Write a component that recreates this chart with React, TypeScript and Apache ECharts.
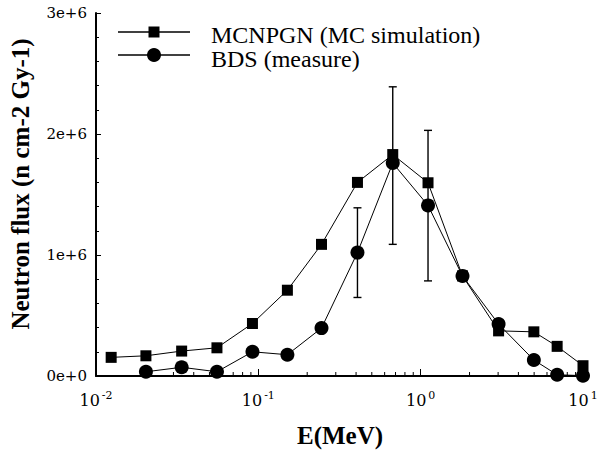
import React, { useEffect, useRef } from "react";
import * as echarts from "echarts";

// MCNPGN (MC simulation)
const mcEnergy = [0.0124, 0.0203, 0.0337, 0.0556, 0.092, 0.151, 0.245, 0.408, 0.673, 1.11, 1.81, 3.02, 4.98, 6.93, 10];
const mcFlux = [0.154e6, 0.167e6, 0.206e6, 0.233e6, 0.434e6, 0.709e6, 1.088e6, 1.6e6, 1.83e6, 1.597e6, 0.827e6, 0.373e6, 0.365e6, 0.245e6, 0.085e6];

// BDS (measure)
const bdsEnergy = [0.0203, 0.0337, 0.0556, 0.092, 0.151, 0.245, 0.408, 0.673, 1.11, 1.81, 3.02, 4.98, 6.93, 10];
const bdsFlux = [0.035e6, 0.072e6, 0.035e6, 0.2e6, 0.176e6, 0.396e6, 1.02e6, 1.76e6, 1.41e6, 0.827e6, 0.429e6, 0.132e6, 0.01e6, 0.003e6];

// error bars on BDS
const errEnergy = [0.408, 0.673, 1.11];
const errLow = [0.649e6, 1.088e6, 0.786e6];
const errHigh = [1.39e6, 2.39e6, 2.03e6];

// log-axis minor ticks
const xMinorTicks = [0.02, 0.03, 0.04, 0.05, 0.06, 0.07, 0.08, 0.09, 0.2, 0.3, 0.4, 0.5, 0.6, 0.7, 0.8, 0.9, 2, 3, 4, 5, 6, 7, 8, 9];

const seriesNames = ["MCNPGN (MC simulation)", "BDS (measure)"];
const xAxisTitle = "E(MeV)";
const yAxisTitle = "Neutron flux (n cm-2 Gy-1)";

const SERIF = "Liberation Serif";
const TICKFONT = "DejaVu Serif";

export default function App() {
  const ref = useRef<HTMLDivElement>(null);
  useEffect(() => {
    if (!ref.current) return;
    const chart = echarts.init(ref.current, null, { renderer: "svg" });
    const black = "#000";
    const option: any = {
      animation: false,
      backgroundColor: "#fff",
      grid: { left: 96, right: 16, top: 13, bottom: 75, containLabel: false, outerBoundsMode: "none" },
      xAxis: {
        type: "log",
        logBase: 10,
        min: 0.01,
        max: 10,
        axisLine: { show: true, onZero: false, lineStyle: { color: black, width: 2 } },
        axisTick: { show: true, inside: true, length: 7, lineStyle: { color: black, width: 1 } },
        minorTick: { show: false },
        splitLine: { show: false },
        axisLabel: {
          margin: 14,
          formatter: (v: number) => `{b|10}{s|${Math.round(Math.log10(v))}}`,
          rich: {
            b: { fontFamily: TICKFONT, fontSize: 16, color: black },
            s: { fontFamily: TICKFONT, fontSize: 11, color: black, padding: [0, 0, 10, 2] },
          },
        },
      },
      yAxis: {
        type: "value",
        min: 0,
        max: 3e6,
        interval: 1e6,
        axisLine: { show: true, lineStyle: { color: black, width: 2 } },
        axisTick: { show: true, inside: true, length: 5, lineStyle: { color: black, width: 1 } },
        minorTick: { show: true, splitNumber: 5, length: 3, lineStyle: { color: black, width: 1 } },
        splitLine: { show: false },
        axisLabel: {
          margin: 9,
          fontFamily: TICKFONT,
          fontSize: 15,
          color: black,
          formatter: (v: number) => (v === 0 ? "0e+0" : `${Math.round(v / 1e6)}e+6`),
        },
      },
      series: [
        {
          type: "custom",
          name: "xminor",
          silent: true,
          clip: false,
          z: 1,
          data: xMinorTicks.map((v) => [v, 0]),
          renderItem: (params: any, api: any) => {
            const p = api.coord([api.value(0), 0]);
            return {
              type: "line",
              shape: { x1: p[0], y1: p[1], x2: p[0], y2: p[1] - 4 },
              style: { stroke: black, lineWidth: 1 },
            };
          },
        },
        {
          type: "custom",
          name: "errorbars",
          silent: true,
          z: 2,
          data: errEnergy.map((e, i) => [e, errLow[i], errHigh[i]]),
          renderItem: (params: any, api: any) => {
            const x = api.value(0);
            const lo = api.coord([x, api.value(1)]);
            const hi = api.coord([x, api.value(2)]);
            const hw = 4;
            const st = { stroke: black, lineWidth: 1.4 };
            return {
              type: "group",
              children: [
                { type: "line", shape: { x1: lo[0], y1: lo[1], x2: hi[0], y2: hi[1] }, style: st },
                { type: "line", shape: { x1: hi[0] - hw, y1: hi[1], x2: hi[0] + hw, y2: hi[1] }, style: st },
                { type: "line", shape: { x1: lo[0] - hw, y1: lo[1], x2: lo[0] + hw, y2: lo[1] }, style: st },
              ],
            };
          },
        },
        {
          type: "line",
          name: seriesNames[0],
          data: mcEnergy.map((e, i) => [e, mcFlux[i]]),
          symbol: "rect",
          symbolSize: 11,
          showAllSymbol: true,
          z: 3,
          lineStyle: { color: black, width: 1 },
          itemStyle: { color: black, borderWidth: 0 },
        },
        {
          type: "line",
          name: seriesNames[1],
          data: bdsEnergy.map((e, i) => [e, bdsFlux[i]]),
          symbol: "circle",
          symbolSize: 14,
          showAllSymbol: true,
          z: 4,
          lineStyle: { color: black, width: 1 },
          itemStyle: { color: black, borderWidth: 0 },
        },
      ],
      graphic: [
        // legend
        { type: "line", shape: { x1: 118, y1: 32, x2: 190, y2: 32 }, style: { stroke: black, lineWidth: 1.3 } },
        { type: "rect", shape: { x: 148.5, y: 26.5, width: 11, height: 11 }, style: { fill: black } },
        {
          type: "text",
          x: 211,
          y: 35,
          style: { text: seriesNames[0], fontSize: 24, fontFamily: SERIF, fill: black, align: "left", verticalAlign: "middle" },
        },
        { type: "line", shape: { x1: 118, y1: 55, x2: 190, y2: 55 }, style: { stroke: black, lineWidth: 1.3 } },
        { type: "circle", shape: { cx: 154, cy: 55, r: 7 }, style: { fill: black } },
        {
          type: "text",
          x: 211,
          y: 59,
          style: { text: seriesNames[1], fontSize: 24, fontFamily: SERIF, fill: black, align: "left", verticalAlign: "middle" },
        },
        // axis titles
        {
          type: "text",
          x: 20,
          y: 184,
          rotation: Math.PI / 2,
          style: { text: yAxisTitle, fontSize: 25, fontWeight: "bold", fontFamily: SERIF, fill: black, align: "center", verticalAlign: "middle" },
        },
        {
          type: "text",
          x: 340,
          y: 435,
          style: { text: xAxisTitle, fontSize: 25, fontWeight: "bold", fontFamily: SERIF, fill: black, align: "center", verticalAlign: "middle" },
        },
      ],
    };
    chart.setOption(option);
    return () => chart.dispose();
  }, []);
  return (
    <div
      ref={ref}
      style={{ position: "fixed", left: 0, top: 0, width: 599, height: 451, background: "#fff" }}
    />
  );
}
